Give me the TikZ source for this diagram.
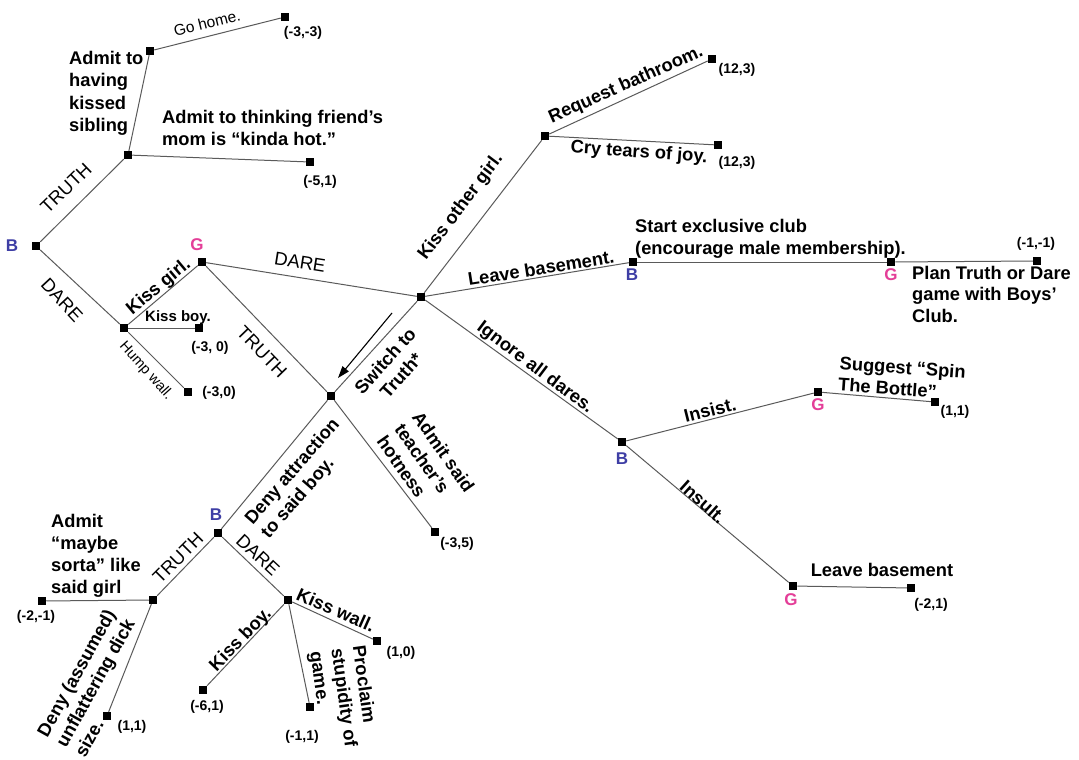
\documentclass[tikz,border=0pt]{standalone}
\usepackage{fontspec}
\setmainfont{Liberation Sans}
\usetikzlibrary{arrows.meta}
\definecolor{bcol}{RGB}{62,62,165}
\definecolor{gcol}{RGB}{228,62,152}
\definecolor{edgecol}{RGB}{90,90,90}
\tikzset{
  sq/.style={fill=black, minimum size=8.5pt, inner sep=0pt, outer sep=0pt},
  br/.style={draw=edgecol, line width=1pt},
  lbl/.style={font=\fontsize{18.3}{21.5}\selectfont\bfseries, inner sep=1pt},
  tdlbl/.style={font=\fontsize{18.5}{21}\selectfont, inner sep=1pt},
  small/.style={font=\fontsize{15.5}{17}\selectfont, inner sep=1pt},
  smallb/.style={font=\fontsize{15}{17}\selectfont\bfseries, inner sep=1pt},
  tiny/.style={font=\fontsize{14.5}{16}\selectfont, inner sep=1pt},
  pay/.style={font=\fontsize{14}{16}\selectfont\bfseries, inner sep=1pt},
  pb/.style={font=\fontsize{17}{19}\selectfont\bfseries, text=bcol, inner sep=1pt},
  pg/.style={font=\fontsize{17}{19}\selectfont\bfseries, text=gcol, inner sep=1pt},
}
\begin{document}
\begin{tikzpicture}[x=1pt, y=-1pt]
\fill[white] (0,0) rectangle (1079,760);
\useasboundingbox (0,0) rectangle (1079,760);

% decision points and outcomes
\node[sq] (r)   at (36,246)  {};
\node[sq] (t1)  at (128,155) {};
\node[sq] (t2)  at (150,51)  {};
\node[sq] (e1)  at (285,17)  {};
\node[sq] (e2)  at (310,162) {};
\node[sq] (d1)  at (124,328) {};
\node[sq] (g1)  at (202,262) {};
\node[sq] (e3)  at (199,328) {};
\node[sq] (e4)  at (188,392) {};
\node[sq] (c)   at (421,297) {};
\node[sq] (s)   at (545,136) {};
\node[sq] (e5)  at (712,59)  {};
\node[sq] (e6)  at (718,145) {};
\node[sq] (b2)  at (633,262) {};
\node[sq] (g2)  at (891,262) {};
\node[sq] (e7)  at (1037,261) {};
\node[sq] (b3)  at (622,442) {};
\node[sq] (g3)  at (818,392) {};
\node[sq] (e8)  at (935,402) {};
\node[sq] (g4)  at (793,586) {};
\node[sq] (e9)  at (911,588) {};
\node[sq] (m)   at (331,396) {};
\node[sq] (e10) at (435,532) {};
\node[sq] (b4)  at (218,533) {};
\node[sq] (t3)  at (153,600) {};
\node[sq] (e11) at (42,601)  {};
\node[sq] (e12) at (107,716) {};
\node[sq] (d2)  at (288,600) {};
\node[sq] (e13) at (203,690) {};
\node[sq] (e14) at (310,707) {};
\node[sq] (e15) at (377,641) {};

% branches
\draw[br] (r) -- (t1);
\draw[br] (r) -- (d1);
\draw[br] (t1) -- (t2);
\draw[br] (t2) -- (e1);
\draw[br] (t1) -- (e2);
\draw[br] (d1) -- (g1);
\draw[br] (d1) -- (e3);
\draw[br] (d1) -- (e4);
\draw[br] (g1) -- (c);
\draw[br] (g1) -- (m);
\draw[br] (c) -- (m);
\draw[br] (c) -- (s);
\draw[br] (s) -- (e5);
\draw[br] (s) -- (e6);
\draw[br] (c) -- (b2);
\draw[br] (b2) -- (g2);
\draw[br] (g2) -- (e7);
\draw[br] (c) -- (b3);
\draw[br] (b3) -- (g3);
\draw[br] (g3) -- (e8);
\draw[br] (b3) -- (g4);
\draw[br] (g4) -- (e9);
\draw[br] (m) -- (b4);
\draw[br] (m) -- (e10);
\draw[br] (b4) -- (t3);
\draw[br] (b4) -- (d2);
\draw[br] (t3) -- (e11);
\draw[br] (t3) -- (e12);
\draw[br] (d2) -- (e13);
\draw[br] (d2) -- (e14);
\draw[br] (d2) -- (e15);

% switch arrow
\coordinate (sw1) at (392,313);
\coordinate (sw2) at (338,378);
\draw[line width=1.1pt, -{Triangle[length=12pt,width=8pt]}] (sw1) -- (sw2);

% players
\node[pb] (pr)  at (12,246)  {B};
\node[pg] (pg1) at (197,245) {G};
\node[pb] (pb2) at (632,275) {B};
\node[pg] (pg2) at (891,275) {G};
\node[pb] (pb3) at (622,459) {B};
\node[pg] (pg3) at (818,405) {G};
\node[pg] (pg4) at (791,600) {G};
\node[pb] (pb4) at (216,515) {B};

% move labels
\node[tdlbl, rotate=44]  (l1) at (66,188)  {TRUTH};
\node[tdlbl, rotate=-47] (l2) at (62,300)  {DARE};
\node[lbl, align=left, anchor=north west, font=\fontsize{18.3}{22.5}\selectfont\bfseries] (l3) at (68,50) {Admit to\\having\\kissed\\sibling};
\node[small, rotate=14] (l4) at (207,23) {Go home.};
\node[lbl, align=left, anchor=west] (l5) at (161,128) {Admit to thinking friend’s\\mom is “kinda hot.”};
\node[lbl, rotate=40] (l6) at (159,287) {Kiss girl.};
\node[smallb] (l7) at (178,318) {Kiss boy.};
\node[tiny, rotate=-48] (l8) at (146,371) {Hump wall.};
\node[tdlbl, rotate=-9] (l9) at (300,262) {DARE};
\node[tdlbl, rotate=-46] (l10) at (262,352) {TRUTH};
\node[lbl, rotate=48, align=center] (l11) at (393,368) {Switch to\\Truth*};
\node[lbl, rotate=53] (l12) at (461,207) {Kiss other girl.};
\node[lbl, rotate=24] (l13) at (626,85) {Request bathroom.};
\node[lbl, rotate=-4] (l14) at (639,153) {Cry tears of joy.};
\node[lbl, rotate=9] (l15) at (541,268) {Leave basement.};
\node[lbl, align=left, anchor=west] (l16) at (634,239) {Start exclusive club\\(encourage male membership).};
\node[lbl, align=left, anchor=north west] (l17) at (911,265) {Plan Truth or Dare\\game with Boys’\\Club.};
\node[lbl, rotate=-37] (l18) at (535,368) {Ignore all dares.};
\node[lbl, rotate=14] (l19) at (710,410) {Insist.};
\node[lbl, rotate=-4, align=left] (l20) at (902,378) {Suggest “Spin\\The Bottle”};
\node[lbl, rotate=-42] (l21) at (703,502) {Insult.};
\node[lbl] (l22) at (882,570) {Leave basement};
\node[lbl, rotate=49, align=left] (l23) at (301,479) {Deny attraction\\to said boy.};
\node[lbl, rotate=-55, align=left] (l24) at (426,464) {Admit said\\teacher’s\\hotness};
\node[tdlbl, rotate=45] (l25) at (178,558) {TRUTH};
\node[tdlbl, rotate=-43] (l26) at (258,555) {DARE};
\node[lbl, align=left, anchor=north west, font=\fontsize{18.3}{22}\selectfont\bfseries] (l27) at (50,513) {Admit\\“maybe\\sorta” like\\said girl};
\node[lbl, rotate=61, align=left] (l28) at (95,683) {Deny (assumed)\\unflattering dick\\size.};
\node[lbl, rotate=46] (l29) at (241,640) {Kiss boy.};
\node[lbl, rotate=-82, align=left] (l30) at (343,698) {Proclaim\\stupidity of\\game.};
\node[lbl, rotate=-24] (l31) at (336,610) {Kiss wall.};

% payoffs
\node[pay] (p1)  at (303,33)  {(-3,-3)};
\node[pay] (p2)  at (320,182) {(-5,1)};
\node[pay] (p3)  at (210,348) {(-3, 0)};
\node[pay] (p4)  at (219,393) {(-3,0)};
\node[pay] (p5)  at (737,70)  {(12,3)};
\node[pay] (p6)  at (737,163) {(12,3)};
\node[pay] (p7)  at (1036,244) {(-1,-1)};
\node[pay] (p8)  at (955,412) {(1,1)};
\node[pay] (p9)  at (931,605) {(-2,1)};
\node[pay] (p10) at (457,544) {(-3,5)};
\node[pay] (p11) at (36,617)  {(-2,-1)};
\node[pay] (p12) at (132,727) {(1,1)};
\node[pay] (p13) at (207,707) {(-6,1)};
\node[pay] (p14) at (302,737) {(-1,1)};
\node[pay] (p15) at (401,653) {(1,0)};
\end{tikzpicture}
\end{document}
